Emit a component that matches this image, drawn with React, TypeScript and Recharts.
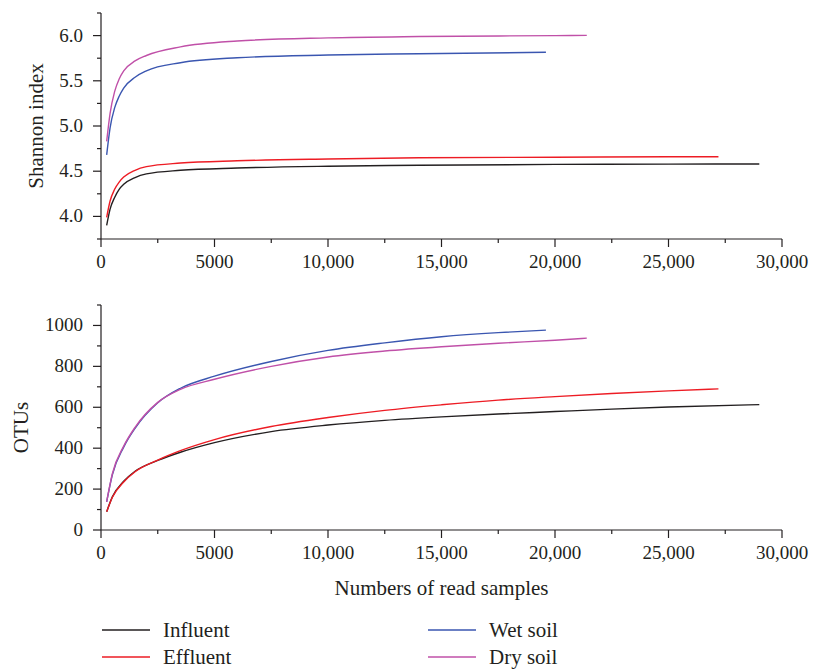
import React from 'react';
import { LineChart, Line, XAxis, YAxis } from 'recharts';

// read depths per library (each rarefaction curve stops at its own depth)
const influentShannonDepths = [250, 400, 600, 800, 1000, 1500, 2000, 3500, 6000, 10000, 14000, 20000, 25000, 29000];
const effluentShannonDepths = [250, 400, 600, 800, 1000, 1500, 2000, 3500, 6000, 10000, 14000, 20000, 25000, 27200];
const wetSoilShannonDepths = [250, 400, 600, 800, 1000, 1500, 2000, 3500, 6000, 10000, 14000, 19600];
const drySoilShannonDepths = [250, 400, 600, 800, 1000, 1500, 2000, 3500, 6000, 10000, 14000, 20000, 21400];

const influentShannon = [3.9, 4.08, 4.21, 4.3, 4.355, 4.43, 4.47, 4.51, 4.535, 4.555, 4.565, 4.575, 4.578, 4.58];
const effluentShannon = [3.99, 4.17, 4.3, 4.38, 4.435, 4.51, 4.55, 4.59, 4.615, 4.635, 4.648, 4.655, 4.66, 4.66];
const wetSoilShannon = [4.68, 4.98, 5.2, 5.33, 5.42, 5.54, 5.61, 5.7, 5.755, 5.785, 5.8, 5.815];
const drySoilShannon = [4.83, 5.14, 5.38, 5.52, 5.61, 5.72, 5.78, 5.875, 5.94, 5.975, 5.99, 6.0, 6.003];

const influentOtuDepths = [250, 500, 1000, 1500, 2500, 3500, 5000, 7500, 10000, 12500, 15000, 17500, 20000, 22500, 25000, 29000];
const effluentOtuDepths = [250, 500, 1000, 1500, 2500, 3500, 5000, 7500, 10000, 12500, 15000, 17500, 20000, 22500, 25000, 27200];
const wetSoilOtuDepths = [250, 500, 1000, 1500, 2500, 3500, 5000, 7500, 10000, 12500, 15000, 17500, 19600];
const drySoilOtuDepths = [250, 500, 1000, 1500, 2500, 3500, 5000, 7500, 10000, 12500, 15000, 17500, 20000, 21400];

const influentOtus = [89, 162, 238, 287, 340, 380, 427, 481, 513, 536, 553, 567, 579, 591, 601, 613];
const effluentOtus = [89, 160, 235, 285, 342, 388, 442, 506, 550, 585, 612, 635, 652, 667, 680, 690];
const wetSoilOtus = [138, 270, 405, 497, 622, 693, 752, 824, 878, 915, 945, 965, 977];
const drySoilOtus = [138, 275, 410, 502, 624, 688, 737, 800, 846, 875, 896, 913, 928, 938];

const depthTicks = [0, 2500, 5000, 7500, 10000, 12500, 15000, 17500, 20000, 22500, 25000, 27500, 30000];
const shannonTicks = [3.75, 4.0, 4.25, 4.5, 4.75, 5.0, 5.25, 5.5, 5.75, 6.0, 6.25];
const otuTicks = [0, 100, 200, 300, 400, 500, 600, 700, 800, 900, 1000, 1100];

const seriesNames = ['Influent', 'Effluent', 'Wet soil', 'Dry soil'];
const seriesColors = ['#231f20', '#ed1c24', '#3a56b0', '#c050a8'];

const toPoints = (xs: number[], ys: number[]) => xs.map((depth, i) => ({ depth, value: ys[i] }));

const shannonSeries = [
  toPoints(influentShannonDepths, influentShannon),
  toPoints(effluentShannonDepths, effluentShannon),
  toPoints(wetSoilShannonDepths, wetSoilShannon),
  toPoints(drySoilShannonDepths, drySoilShannon),
];

const otuSeries = [
  toPoints(influentOtuDepths, influentOtus),
  toPoints(effluentOtuDepths, effluentOtus),
  toPoints(wetSoilOtuDepths, wetSoilOtus),
  toPoints(drySoilOtuDepths, drySoilOtus),
];

const FONT = "'Liberation Serif', 'Times New Roman', serif";
const INK = '#231f20';

const fmtDepth = (v: number) => (v >= 10000 ? v.toLocaleString('en-US') : String(v));

function DepthTick({ x, y, payload }: any) {
  const v = payload.value;
  const major = v % 5000 === 0;
  return (
    <g>
      <line x1={x} x2={x} y1={y} y2={y + (major ? 8 : 4)} stroke={INK} strokeWidth={1.2} />
      {major && (
        <text x={x} y={y + 29} textAnchor="middle" fontFamily={FONT} fontSize={19} fill={INK}>
          {fmtDepth(v)}
        </text>
      )}
    </g>
  );
}

function makeYTick(isMajor: (v: number) => boolean, fmt: (v: number) => string) {
  return function YTick({ x, y, payload }: any) {
    const v = payload.value;
    const major = isMajor(v);
    return (
      <g>
        <line x1={x} x2={x - (major ? 8 : 4)} y1={y} y2={y} stroke={INK} strokeWidth={1.2} />
        {major && (
          <text x={x - 18} y={y + 6} textAnchor="end" fontFamily={FONT} fontSize={19} fill={INK}>
            {fmt(v)}
          </text>
        )}
      </g>
    );
  };
}

const ShannonTick = makeYTick(
  (v) => Math.abs(v * 2 - Math.round(v * 2)) < 1e-6 && v >= 4 && v <= 6,
  (v) => v.toFixed(1)
);
const OtuTick = makeYTick((v) => v % 200 === 0 && v <= 1000, (v) => String(v));

const yTitle = (text: string, cx: number, shift: number) => (props: any) => {
  const vb = props.viewBox;
  const cy = vb.y + vb.height / 2 + shift;
  return (
    <text
      x={cx}
      y={cy}
      transform={`rotate(-90, ${cx}, ${cy})`}
      textAnchor="middle"
      dominantBaseline="central"
      fontFamily={FONT}
      fontSize={21}
      fill={INK}
    >
      {text}
    </text>
  );
};

const xTitle = (text: string) => (props: any) => {
  const vb = props.viewBox;
  return (
    <text x={vb.x + vb.width / 2} y={vb.y + 65} textAnchor="middle" fontFamily={FONT} fontSize={21} fill={INK}>
      {text}
    </text>
  );
};

const axisLine = { stroke: INK, strokeWidth: 1.2 };

export default function App() {
  return (
    <div style={{ position: 'absolute', left: 0, top: 0, width: 815, height: 669, background: '#fff' }}>
      <div style={{ position: 'absolute', left: 0, top: 0 }}>
        <LineChart width={815} height={290} margin={{ top: 13, right: 33, bottom: 0, left: 0 }}>
          <XAxis
            dataKey="depth"
            type="number"
            domain={[0, 30000]}
            ticks={depthTicks}
            interval={0}
            height={51}
            tickSize={0}
            tickMargin={0}
            tickLine={false}
            axisLine={axisLine}
            tick={<DepthTick />}
          />
          <YAxis
            type="number"
            domain={[3.75, 6.25]}
            ticks={shannonTicks}
            interval={0}
            width={101}
            tickSize={0}
            tickMargin={0}
            tickLine={false}
            axisLine={axisLine}
            tick={<ShannonTick />}
            label={yTitle('Shannon index', 36, 0)}
          />
          {shannonSeries.map((data, i) => (
            <Line
              key={seriesNames[i]}
              data={data}
              dataKey="value"
              name={seriesNames[i]}
              type="monotone"
              stroke={seriesColors[i]}
              strokeWidth={1.4}
              dot={false}
              isAnimationActive={false}
            />
          ))}
        </LineChart>
      </div>
      <div style={{ position: 'absolute', left: 0, top: 290 }}>
        <LineChart width={815} height={330} margin={{ top: 15, right: 33, bottom: 0, left: 0 }}>
          <XAxis
            dataKey="depth"
            type="number"
            domain={[0, 30000]}
            ticks={depthTicks}
            interval={0}
            height={90}
            tickSize={0}
            tickMargin={0}
            tickLine={false}
            axisLine={axisLine}
            tick={<DepthTick />}
            label={xTitle('Numbers of read samples')}
          />
          <YAxis
            type="number"
            domain={[0, 1100]}
            ticks={otuTicks}
            interval={0}
            width={101}
            tickSize={0}
            tickMargin={0}
            tickLine={false}
            axisLine={axisLine}
            tick={<OtuTick />}
            label={yTitle('OTUs', 21, 10)}
          />
          {otuSeries.map((data, i) => (
            <Line
              key={seriesNames[i]}
              data={data}
              dataKey="value"
              name={seriesNames[i]}
              type="monotone"
              stroke={seriesColors[i]}
              strokeWidth={1.4}
              dot={false}
              isAnimationActive={false}
            />
          ))}
        </LineChart>
      </div>
      <svg style={{ position: 'absolute', left: 0, top: 610 }} width={815} height={59}>
        {seriesNames.map((name, i) => {
          const lx = i < 2 ? 102 : 428;
          const ly = i % 2 === 0 ? 20 : 47;
          return (
            <g key={name}>
              <line x1={lx} x2={lx + 48} y1={ly} y2={ly} stroke={seriesColors[i]} strokeWidth={1.6} />
              <text x={lx + 61} y={ly + 7} fontFamily={FONT} fontSize={21} fill={INK}>
                {name}
              </text>
            </g>
          );
        })}
      </svg>
    </div>
  );
}
